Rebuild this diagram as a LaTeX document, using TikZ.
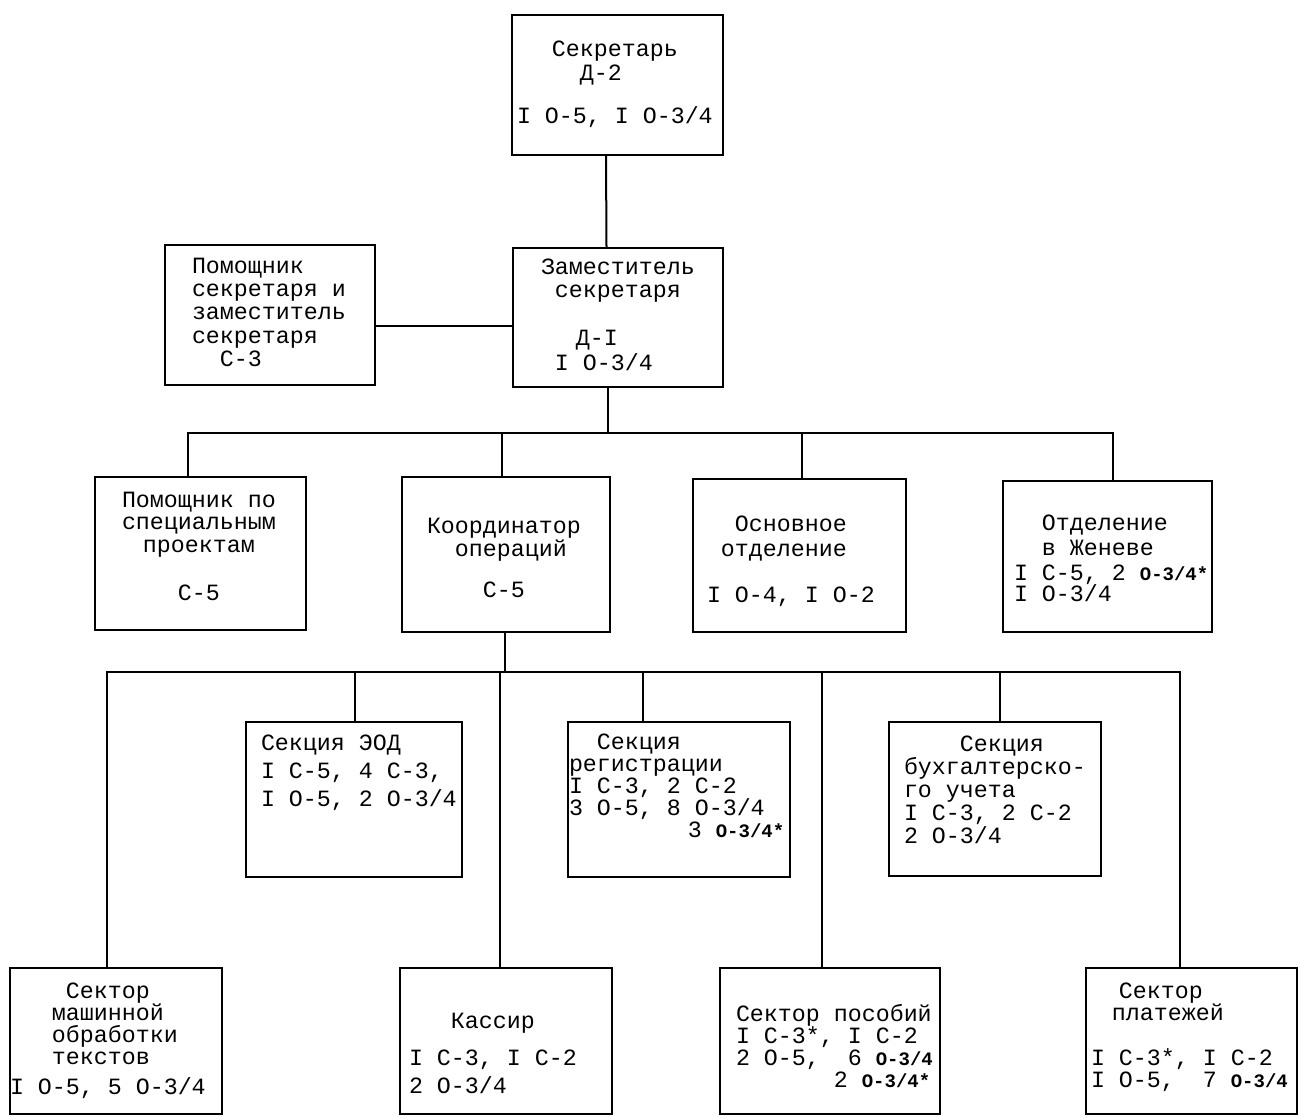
\documentclass[tikz,border=0pt]{standalone}
\usepackage{fontspec}
\setmainfont{Liberation Mono}
\usetikzlibrary{positioning}
\lineskiplimit=-100pt
\newcommand{\ind}[1]{\hspace*{#1\dimexpr 0.6em\relax}}
\newcommand{\hw}[1]{{\fontsize{19pt}{19pt}\selectfont\bfseries #1}}
\tikzset{orgbox/.style = {draw, line width = 2.4pt, inner sep = 0}}
\tikzset{txt/.style = {align = left, inner sep = 0,
                       font = \fontsize{23.3pt}{#1}\selectfont}}
\tikzset{link/.style = {line width = 2pt}}

\begin{document}
\begin{tikzpicture}[x = 1pt, y = -1pt]
      \useasboundingbox (0, 0) rectangle (1299, 1117);

      \node [orgbox, minimum width = 211pt, minimum height = 140pt] (sec) at (617.5, 85) {};
      \node [orgbox, minimum width = 210pt, minimum height = 140pt] (pom) at (270, 315) {};
      \node [orgbox, minimum width = 210pt, minimum height = 139pt] (zam) at (618, 317.5) {};

      \node [orgbox, minimum width = 211pt, minimum height = 153pt] (spec) at (200.5, 553.5) {};
      \node [orgbox, minimum width = 208pt, minimum height = 155pt] (coord) at (506, 554.5) {};
      \node [orgbox, minimum width = 213pt, minimum height = 153pt] (osn) at (799.5, 555.5) {};
      \node [orgbox, minimum width = 209pt, minimum height = 151pt] (zhen) at (1107.5, 556.5) {};

      \node [orgbox, minimum width = 216pt, minimum height = 155pt] (eod) at (354, 799.5) {};
      \node [orgbox, minimum width = 222pt, minimum height = 155pt] (reg) at (679, 799.5) {};
      \node [orgbox, minimum width = 212pt, minimum height = 154pt] (buh) at (995, 799) {};

      \node [orgbox, minimum width = 212pt, minimum height = 146pt] (mash) at (116, 1041) {};
      \node [orgbox, minimum width = 212pt, minimum height = 146pt] (kas) at (506, 1041) {};
      \node [orgbox, minimum width = 220pt, minimum height = 146pt] (pos) at (830, 1041) {};
      \node [orgbox, minimum width = 211pt, minimum height = 146pt] (plat) at (1191.5, 1041) {};

      \node [txt = 24pt, below right = 27pt and 6pt of sec.north west] (sect)
        {\ind{2.5}Секретарь\\\ind{4.5}Д-2\\[19pt]I О-5, I О-3/4};
      \node [txt = 23.3pt, below right = 14pt and 28pt of pom.north west] (pomt)
        {Помощник\\секретаря и\\заместитель\\секретаря\\\ind{2}С-3};
      \node [txt = 23pt, below right = 12pt and 29pt of zam.north west] (zamt)
        {Заместитель\\\ind{1}секретаря\\[25pt]\ind{2.5}Д-I\\[2pt]\ind{1}I О-3/4};

      \node [txt = 22.5pt, below right = 16pt and 28pt of spec.north west] (spect)
        {Помощник по\\специальным\\\ind{1.5}проектам\\[26pt]\ind{4}С-5};
      \node [txt = 23pt, below right = 42pt and 26pt of coord.north west] (coordt)
        {Координатор\\\ind{2}операций\\[18pt]\ind{4}С-5};
      \node [txt = 25pt, below right = 38pt and 15pt of osn.north west] (osnt)
        {\ind{2}Основное\\\ind{1}отделение\\[21pt]I О-4, I О-2};
      \node [txt = 25pt, below right = 35pt and 12pt of zhen.north west] (zhent)
        {\ind{2}Отделение\\\ind{2}в Женеве\\I С-5, 2 \hw{О-3/4*}\\[-4pt]I О-3/4};

      \node [txt = 28pt, below right = 14pt and 16pt of eod.north west] (eodt)
        {Секция ЭОД\\I С-5, 4 С-3,\\I О-5, 2 О-3/4};
      \node [txt = 22pt, below right = 13pt and 2pt of reg.north west] (regt)
        {\ind{2}Секция\\регистрации\\I С-3, 2 С-2\\3 О-5, 8 О-3/4\\\ind{8.5}3 \hw{О-3/4*}};
      \node [txt = 23pt, below right = 15pt and 16pt of buh.north west] (buht)
        {\ind{4}Секция\\бухгалтерско-\\го учета\\I С-3, 2 С-2\\2 О-3/4};

      \node [txt = 22pt, below right = 16pt and 1pt of mash.north west] (masht)
        {\ind{4}Сектор\\\ind{3}машинной\\\ind{3}обработки\\\ind{3}текстов\\[8pt]I О-5, 5 О-3/4};
      \node [txt = 28pt, below right = 46pt and 10pt of kas.north west] (kast)
        {\ind{3}Кассир\\[9pt]I С-3, I С-2\\2 О-3/4};
      \node [txt = 22pt, below right = 37pt and 17pt of pos.north west] (post)
        {Сектор пособий\\I С-3*, I С-2\\2 О-5,\ind{2}6 \hw{О-3/4}\\\ind{7}2 \hw{О-3/4*}};
      \node [txt = 22pt, below right = 16pt and 6pt of plat.north west] (platt)
        {\ind{2}Сектор\\\ind{1.5}платежей\\[23pt]I С-3*, I С-2\\I О-5,\ind{2}7 \hw{О-3/4}};

      \coordinate (hub1) at (608, 433);
      \coordinate (hub2) at (505, 672);

      \draw [link] ([xshift=-11.5pt]sec.south) -- ([xshift=-11.5pt]zam.north);
      \draw [link] ([yshift=-11pt]pom.east) -- ([yshift=-11pt]pom.east -| zam.west);
      \draw [link] ([xshift=-10pt]zam.south) -- (hub1);
      \draw [link] ([xshift=-12.5pt]spec.north) |- (hub1) -| ([xshift=5.5pt]zhen.north);
      \draw [link] ([xshift=-4pt]coord.north) -- ([xshift=-4pt]coord.north |- hub1);
      \draw [link] ([xshift=2.5pt]osn.north) -- ([xshift=2.5pt]osn.north |- hub1);

      \draw [link] ([xshift=-1pt]coord.south) -- (hub2);
      \draw [link] ([xshift=-9pt]mash.north) |- (hub2) -| ([xshift=-11.5pt]plat.north);
      \draw [link] ([xshift=1pt]eod.north) -- ([xshift=1pt]eod.north |- hub2);
      \draw [link] ([xshift=-6pt]kas.north) -- ([xshift=-6pt]kas.north |- hub2);
      \draw [link] ([xshift=-36pt]reg.north) -- ([xshift=-36pt]reg.north |- hub2);
      \draw [link] ([xshift=-8pt]pos.north) -- ([xshift=-8pt]pos.north |- hub2);
      \draw [link] ([xshift=5pt]buh.north) -- ([xshift=5pt]buh.north |- hub2);
\end{tikzpicture}
\end{document}
